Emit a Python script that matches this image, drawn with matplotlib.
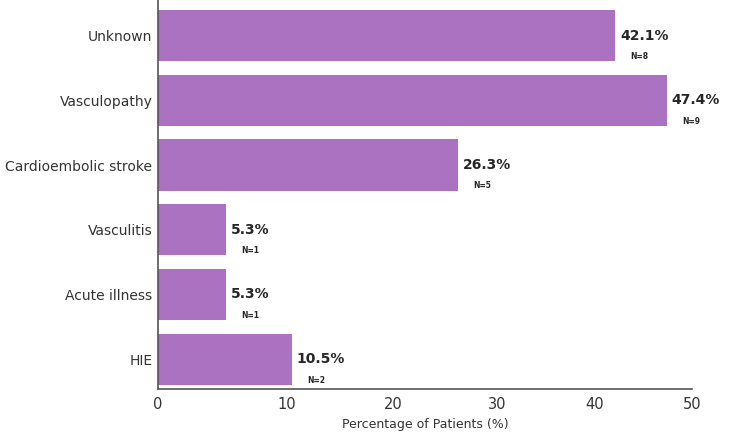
import matplotlib
matplotlib.use("Agg")
import matplotlib.pyplot as plt
import numpy as np

categories = ["Unknown", "Vasculopathy", "Cardioembolic stroke", "Vasculitis", "Acute illness", "HIE"]
percentages = [42.1, 47.4, 26.3, 5.3, 5.3, 10.5]
counts = [8, 9, 5, 1, 1, 2]
xticks = [0, 10, 20, 30, 40, 50]

# the reference's x axis is not evenly spaced; reproduce its spacing with a piecewise scale
tick_spacing = [0, 128.7, 235.3, 338.7, 437.0, 534.0]

def fwd(x):
    return np.interp(x, xticks, tick_spacing)

def inv(y):
    return np.interp(y, tick_spacing, xticks)

plt.rcParams['font.family'] = ['DejaVu Sans']
fig = plt.figure(figsize=(7.5, 4.34), dpi=100)
ax = fig.add_axes([0.2107, 0.1037, 0.712, 0.8963])
ax.set_xscale('function', functions=(fwd, inv))

n = len(categories)
ypos = [n - 1 - i for i in range(n)]
ax.barh(ypos, percentages, height=0.79, color="#aa72c0", edgecolor="none")

for y, p, c in zip(ypos, percentages, counts):
    ax.annotate(f"{p}%", xy=(p, y), xytext=(3.5, 0), textcoords="offset points",
                ha="left", va="center", fontsize=10, fontweight="bold", color="#262626")
    ax.annotate(f"N={c}", xy=(p, y), xytext=(11, -15), textcoords="offset points",
                ha="left", va="center", fontsize=5.5, fontweight="bold", color="#262626")

ax.set_yticks(ypos)
ax.set_yticklabels(categories, fontsize=10, color="#333333")
ax.set_xlim(0, 50)
ax.set_xticks(xticks)
ax.set_xticklabels([str(t) for t in xticks], fontsize=10.5, color="#333333")
ax.minorticks_off()
ax.set_ylim(-0.46, n - 1 + 0.55)
ax.set_xlabel("Percentage of Patients (%)", fontsize=9, color="#333333", labelpad=4)

for s in ["top", "right"]:
    ax.spines[s].set_visible(False)
for s in ["left", "bottom"]:
    ax.spines[s].set_color("#555555")
    ax.spines[s].set_linewidth(1.2)
ax.tick_params(axis="x", length=0, pad=6)
ax.tick_params(axis="y", length=0, pad=4)

fig.savefig("out.png", dpi=100)
